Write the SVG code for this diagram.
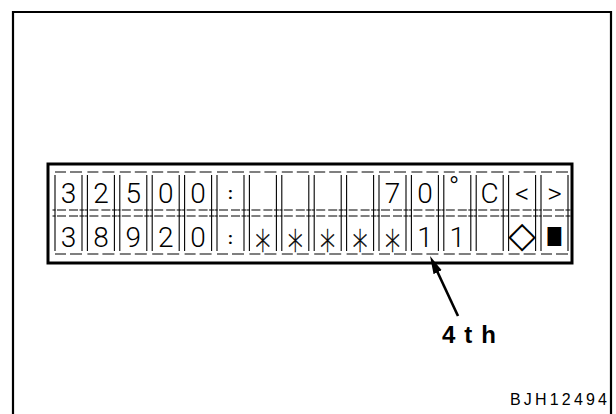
<svg xmlns="http://www.w3.org/2000/svg" xmlns:xlink="http://www.w3.org/1999/xlink" width="616" height="414" viewBox="0 0 616 414">
<style>
.frame{fill:none;stroke:#000;stroke-width:2.2}
.lcd{fill:none;stroke:#000;stroke-width:3}
.h{stroke:#000;stroke-width:1.1;stroke-dasharray:11 4 12}
.hm{stroke:#000;stroke-width:1.1;stroke-dasharray:3 1.5 9 3 9 1.5 6}
.v{stroke:#000;stroke-width:1.1}
.ch{font-family:Roboto,"Liberation Sans",sans-serif;font-weight:300;font-size:28px;fill:#000;text-anchor:middle}
.col{font-family:Roboto,"Liberation Sans",sans-serif;font-weight:700;font-size:17px;fill:#000;text-anchor:middle}
.ast{font-family:"DejaVu Sans",sans-serif;font-weight:200;font-size:38px;fill:#000;stroke:#000;stroke-width:0.35;text-anchor:middle}
.sym{font-family:"DejaVu Sans",sans-serif;fill:#000;text-anchor:middle}
.lbl{font-family:"Liberation Sans",Arial,sans-serif;font-weight:bold;font-size:24px;fill:#000}
.code{font-family:"Liberation Sans",Arial,sans-serif;font-size:16px;fill:#000}
.arrow{stroke:#000;stroke-width:2.6;fill:none}
</style>
<defs>
<g id="cellA">
<line class="h" x1="0" y1="0" x2="27" y2="0"/>
<line class="hm" x1="-2.5" y1="38" x2="29.5" y2="38"/>
<line class="v" x1="0" y1="3" x2="0" y2="41"/>
<line class="v" x1="27" y1="3" x2="27" y2="41"/>
</g>
<g id="cellB">
<line class="hm" x1="-2.5" y1="0" x2="29.5" y2="0"/>
<line class="h" x1="0" y1="38" x2="27" y2="38"/>
<line class="v" x1="0" y1="-3" x2="0" y2="35"/>
<line class="v" x1="27" y1="-3" x2="27" y2="35"/>
</g>
<marker id="head" markerUnits="userSpaceOnUse" markerWidth="20" markerHeight="10" refX="10" refY="4.5" orient="auto">
<path d="M0,0 L18,4.5 L0,9 z" fill="#000"/>
</marker>
</defs>
<path id="frame" class="frame" d="M13,414 V12 H611 V414"/>
<g id="lcd">
<rect class="lcd" x="48" y="164" width="524" height="99"/>
<g id="grid">
<use xlink:href="#cellA" x="55" y="172"/><use xlink:href="#cellA" x="87.4" y="172"/><use xlink:href="#cellA" x="119.8" y="172"/><use xlink:href="#cellA" x="152.2" y="172"/>
<use xlink:href="#cellA" x="184.6" y="172"/><use xlink:href="#cellA" x="217" y="172"/><use xlink:href="#cellA" x="249.4" y="172"/><use xlink:href="#cellA" x="281.8" y="172"/>
<use xlink:href="#cellA" x="314.2" y="172"/><use xlink:href="#cellA" x="346.6" y="172"/><use xlink:href="#cellA" x="379" y="172"/><use xlink:href="#cellA" x="411.4" y="172"/>
<use xlink:href="#cellA" x="443.8" y="172"/><use xlink:href="#cellA" x="476.2" y="172"/><use xlink:href="#cellA" x="508.6" y="172"/><use xlink:href="#cellA" x="541" y="172"/>
<use xlink:href="#cellB" x="55" y="216"/><use xlink:href="#cellB" x="87.4" y="216"/><use xlink:href="#cellB" x="119.8" y="216"/><use xlink:href="#cellB" x="152.2" y="216"/>
<use xlink:href="#cellB" x="184.6" y="216"/><use xlink:href="#cellB" x="217" y="216"/><use xlink:href="#cellB" x="249.4" y="216"/><use xlink:href="#cellB" x="281.8" y="216"/>
<use xlink:href="#cellB" x="314.2" y="216"/><use xlink:href="#cellB" x="346.6" y="216"/><use xlink:href="#cellB" x="379" y="216"/><use xlink:href="#cellB" x="411.4" y="216"/>
<use xlink:href="#cellB" x="443.8" y="216"/><use xlink:href="#cellB" x="476.2" y="216"/><use xlink:href="#cellB" x="508.6" y="216"/><use xlink:href="#cellB" x="541" y="216"/>
</g>
<g id="row1">
<text class="ch" x="68.5" y="203">3</text>
<text class="ch" x="100.9" y="203">2</text>
<text class="ch" x="133.3" y="203">5</text>
<text class="ch" x="165.7" y="203">0</text>
<text class="ch" x="198.1" y="203">0</text>
<text class="col" x="230.5" y="199">:</text>
<text class="ch" x="392.5" y="203">7</text>
<text class="ch" x="424.9" y="203">0</text>
<text class="ch" x="454" y="197">°</text>
<text class="ch" x="489.7" y="203">C</text>
<text class="ch" x="522.1" y="203">&lt;</text>
<text class="ch" x="554.5" y="203">&gt;</text>
</g>
<g id="row2">
<text class="ch" x="68.5" y="247">3</text>
<text class="ch" x="100.9" y="247">8</text>
<text class="ch" x="133.3" y="247">9</text>
<text class="ch" x="165.7" y="247">2</text>
<text class="ch" x="198.1" y="247">0</text>
<text class="col" x="230.5" y="244">:</text>
<text class="ast" transform="translate(262.9,236.5) scale(0.8,1.3)" y="22.5">*</text>
<text class="ast" transform="translate(295.3,236.5) scale(0.8,1.3)" y="22.5">*</text>
<text class="ast" transform="translate(327.7,236.5) scale(0.8,1.3)" y="22.5">*</text>
<text class="ast" transform="translate(360.1,236.5) scale(0.8,1.3)" y="22.5">*</text>
<text class="ast" transform="translate(392.5,236.5) scale(0.8,1.3)" y="22.5">*</text>
<text class="ch" x="424.9" y="247">1</text>
<text class="ch" x="457.3" y="247">1</text>
<text class="sym" x="522.1" y="247" style="font-size:36px">◇</text>
<text class="sym" transform="translate(554.5,243) scale(0.9,1.25)" style="font-size:20px">■</text>
</g>
</g>
<g id="connectors">
<line class="arrow" x1="458" y1="316" x2="433.4" y2="263.2" marker-end="url(#head)"/>
</g>
<g id="label-4th">
<text class="lbl" x="442" y="343" letter-spacing="9">4th</text>
</g>
<g id="code">
<text class="code" x="510" y="405" textLength="97" lengthAdjust="spacing">BJH12494</text>
</g>
</svg>
